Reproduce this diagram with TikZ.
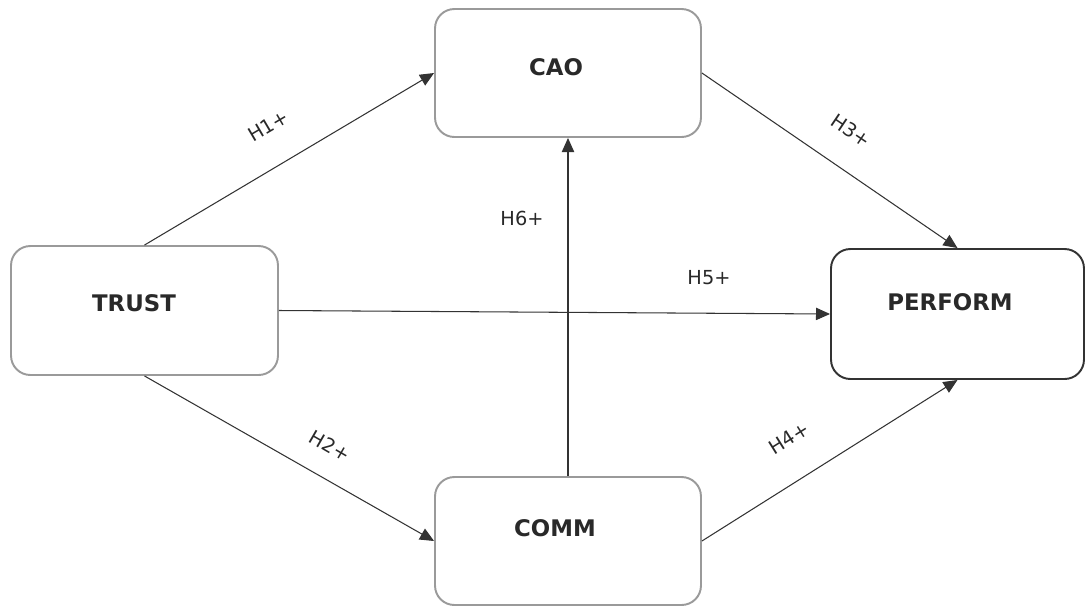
\documentclass[tikz,border=0pt]{standalone}
\usepackage{fontspec}
\setmainfont{DejaVu Sans}
\usetikzlibrary{arrows.meta}
\definecolor{boxgray}{HTML}{9A9A9A}
\definecolor{ink}{HTML}{333333}
\tikzset{
  box/.style={draw=boxgray,line width=1.1pt,rounded corners=11pt,fill=white},
  boxtext/.style={font=\bfseries\fontsize{13}{15}\selectfont,text=ink!80!black},
  hyp/.style={font=\fontsize{11}{13}\selectfont,text=ink!80!black},
  link/.style={draw=ink,line width=0.6pt,-{Triangle[length=8pt,width=7pt]}}
}
\begin{document}
\begin{tikzpicture}[x=0.02cm,y=-0.02cm]
\useasboundingbox (0,0) rectangle (1086,606);
% boxes
\node[box,minimum width=5.32cm,minimum height=2.56cm] (cao) at (568,73) {};
\node[box,minimum width=5.32cm,minimum height=2.56cm] (comm) at (568,541) {};
\node[box,minimum width=5.34cm,minimum height=2.58cm] (trust) at (144.5,310.5) {};
\node[box,draw=ink,minimum width=5.06cm,minimum height=2.6cm] (perform) at (957.5,314) {};
\node[boxtext] (caotext) at (556,67) {CAO};
\node[boxtext] (commtext) at (555,528) {COMM};
\node[boxtext] (trusttext) at (134,303) {TRUST};
\node[boxtext] (performtext) at (950,302) {PERFORM};
% hypotheses
\draw[link] (trust.north) -- (cao.west);
\draw[link] (trust.south) -- (comm.west);
\draw[link] (cao.east) -- (perform.north);
\draw[link] (comm.east) -- (perform.south);
\draw[link] (trust.east) -- (perform.west);
\draw[link] (comm.north) -- (cao.south);
\node[hyp,rotate=30.5] (h1) at (268,126) {H1+};
\node[hyp,rotate=-30] (h2) at (330,446) {H2+};
\node[hyp,rotate=-34] (h3) at (851,131) {H3+};
\node[hyp,rotate=32] (h4) at (789,438) {H4+};
\node[hyp] (h5) at (709,278) {H5+};
\node[hyp] (h6) at (522,218) {H6+};
\end{tikzpicture}
\end{document}
